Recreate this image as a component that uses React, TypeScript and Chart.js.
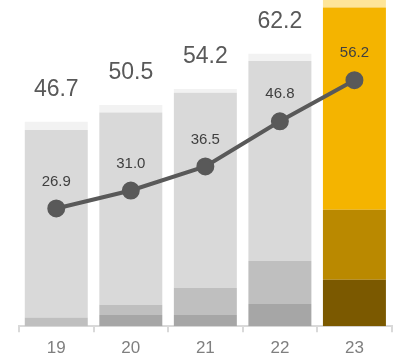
import React, { useEffect, useRef } from "react";
import { Chart, registerables } from "chart.js";

Chart.register(...registerables);

const categories = ["19", "20", "21", "22", "23"];
const segBottom = [0, 2.6, 2.6, 5.1, 10.6];
const segLower = [2.0, 2.3, 6.2, 9.8, 16.0];
const segMain = [42.8, 43.9, 44.5, 45.7, 46.2];
const segTop = [1.9, 1.7, 0.9, 1.6, 2.0];
const lineValues = [26.9, 31.0, 36.5, 46.8, 56.2];

const colBottom = ["#a6a6a6", "#a6a6a6", "#a6a6a6", "#a6a6a6", "#7b5900"];
const colLower = ["#bfbfbf", "#bfbfbf", "#bfbfbf", "#bfbfbf", "#ba8900"];
const colMain = ["#d9d9d9", "#d9d9d9", "#d9d9d9", "#d9d9d9", "#f4b400"];
const colTop = ["#f2f2f2", "#f2f2f2", "#f2f2f2", "#f2f2f2", "#fee599"];

const FONT = "'Liberation Sans', Arial, sans-serif";

const labelPlugin = {
  id: "labels",
  afterDatasetsDraw(chart: any) {
    const ctx = chart.ctx;
    const x = chart.scales.x;
    const y = chart.scales.y;
    ctx.save();
    ctx.textAlign = "center";
    ctx.textBaseline = "middle";
    // totals
    ctx.font = `23px ${FONT}`;
    ctx.fillStyle = "#595959";
    categories.forEach((_, i) => {
      const total = segBottom[i] + segLower[i] + segMain[i] + segTop[i];
      const py = y.getPixelForValue(total) - 32;
      if (py > 10) ctx.fillText(total.toFixed(1), x.getPixelForValue(i), py);
    });
    // line labels
    ctx.font = `15px ${FONT}`;
    ctx.fillStyle = "#404040";
    lineValues.forEach((v, i) => {
      const py = y.getPixelForValue(v) - 27;
      ctx.fillText(v.toFixed(1), x.getPixelForValue(i), py);
    });
    ctx.restore();
  },
};

export default function App() {
  const ref = useRef<HTMLCanvasElement>(null);
  useEffect(() => {
    document.body.style.margin = "0";
    const barCommon = {
      type: "bar" as const,
      categoryPercentage: 1,
      barPercentage: 0.845,
      borderWidth: 0,
      order: 2,
      yAxisID: "y",
    };
    const chart = new Chart(ref.current as HTMLCanvasElement, {
      type: "bar",
      data: {
        labels: categories,
        datasets: [
          {
            type: "line",
            data: lineValues,
            borderColor: "#595959",
            backgroundColor: "#595959",
            borderWidth: 4,
            pointRadius: 8,
            pointBorderWidth: 2,
            pointBackgroundColor: "#595959",
            pointBorderColor: "#595959",
            order: 0,
            yAxisID: "y2",
          } as any,
          { ...barCommon, data: segBottom, backgroundColor: colBottom },
          { ...barCommon, data: segLower, backgroundColor: colLower },
          { ...barCommon, data: segMain, backgroundColor: colMain },
          { ...barCommon, data: segTop, backgroundColor: colTop },
        ],
      },
      options: {
        animation: false,
        responsive: false,
        layout: { autoPadding: false, padding: { left: 19, right: 3.3, top: 0, bottom: 0 } },
        plugins: { legend: { display: false }, tooltip: { enabled: false } },
        scales: {
          x: {
            stacked: true,
            offset: true,
            grid: {
              offset: true,
              drawOnChartArea: false,
              drawTicks: true,
              tickLength: 6,
              color: "#d9d9d9",
              lineWidth: 2,
            },
            border: { display: true, color: "#d9d9d9", width: 2 },
            ticks: {
              color: "#7f7f7f",
              padding: 7,
              font: { family: FONT, size: 17, lineHeight: 1.05 },
            },
            afterFit: (scale: any) => {
              scale.height = 30.7;
            },
          },
          y: {
            stacked: true,
            display: false,
            min: 0,
            max: 74.5,
          },
          y2: {
            display: false,
            min: 0,
            max: 74.5,
          },
        },
      },
      plugins: [labelPlugin],
    });
    return () => chart.destroy();
  }, []);
  return <canvas ref={ref} width={395} height={357} style={{ display: "block" }} />;
}
